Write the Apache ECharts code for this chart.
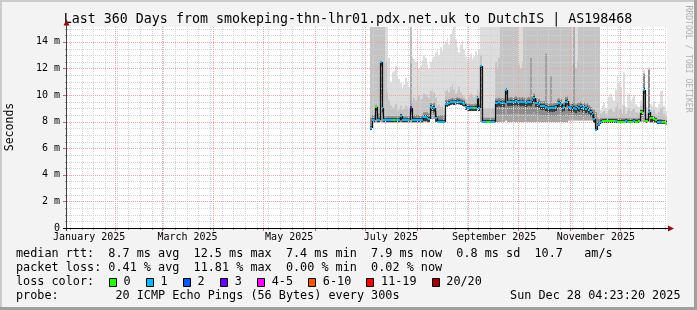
<!DOCTYPE html>
<html><head><meta charset="utf-8">
<script src="https://cdn.jsdelivr.net/npm/echarts@6/dist/echarts.min.js"></script>
<style>html,body{margin:0;padding:0;background:#f3f3f3;}#c{width:697px;height:310px;}</style>
</head><body><div id="c"></div>
<script>
// ---- data (day index: 0 = 1 Jan 2025) ----
const firstDay = 184;
const median = [
 7.5, 8.1, 8.1, 9.1, 8.1, 8.1, 12.5, 9.0, 8.1, 8.1,
 8.1, 8.1, 8.1, 8.1, 8.1, 8.1, 8.1, 8.1, 8.4, 8.15,
 8.1, 8.1, 8.1, 8.1, 9.0, 8.15, 8.15, 8.15, 8.15, 8.15,
 8.15, 8.15, 8.35, 8.35, 8.3, 8.2, 9.1, 9.1, 9.05, 8.3,
 8.0, 8.0, 8.0, 8.0, 8.0, 9.35, 9.3, 9.4, 9.45, 9.5,
 9.45, 9.5, 9.55, 9.5, 9.45, 9.4, 9.35, 9.1, 9.05, 9.05,
 9.0, 9.0, 9.0, 9.05, 9.75, 9.0, 12.2, 7.98, 7.98, 7.98,
 7.98, 7.98, 7.98, 7.98, 7.98, 9.4, 9.4, 9.45, 9.4, 9.45,
 9.4, 10.35, 9.5, 9.45, 9.5, 9.45, 9.5, 9.55, 9.45, 9.5,
 9.45, 9.5, 9.45, 9.4, 9.45, 9.5, 9.45, 9.6, 9.8, 9.4,
 9.4, 9.35, 9.2, 9.15, 9.2, 9.1, 9.05, 9.0, 9.05, 9.0,
 9.05, 9.1, 9.35, 9.4, 9.35, 9.05, 9.1, 9.5, 9.55, 9.1,
 9.0, 9.15, 9.05, 8.95, 9.1, 9.05, 9.15, 9.0, 9.1, 8.95,
 9.05, 8.9, 8.75, 8.6, 8.2, 7.35, 7.75, 7.8, 8.0, 8.05,
 8.05, 8.05, 8.05, 8.05, 8.05, 8.05, 8.05, 8.05, 8.0, 8.0,
 8.0, 8.0, 8.0, 8.05, 8.0, 8.0, 8.0, 8.0, 8.05, 8.0,
 8.0, 8.05, 8.7, 8.75, 10.4, 8.05, 8.05, 8.7, 8.25, 8.25,
 8.2, 8.1, 7.98, 7.98, 7.98, 7.95, 7.95, 7.9
];
const lossCount = [
 1,1,1,0,1,1,1,1,1,1,
 1,1,1,1,0,1,0,1,1,1,
 1,1,1,1,3,1,1,1,1,1,
 1,1,1,1,1,1,1,1,1,1,
 1,1,1,1,1,1,1,1,1,1,
 1,1,1,1,1,1,1,1,1,1,
 1,1,0,1,1,1,1,1,1,1,
 0,0,1,1,1,1,1,1,1,1,
 1,1,1,1,1,1,1,1,1,1,
 1,1,1,1,1,1,1,1,1,1,
 1,1,1,1,1,1,1,1,1,1,
 1,1,1,1,1,1,1,1,1,1,
 1,1,1,1,1,1,1,1,1,1,
 1,1,1,1,1,1,1,1,1,0,
 0,0,0,0,0,0,0,1,0,0,
 0,0,0,1,1,0,0,0,1,0,
 0,0,0,0,1,0,0,1,0,0,
 0,0,1,1,1,0,0,0
];
const pingMin = [
 7.4, 7.95, 7.95, 7.95, 7.95, 7.95, 8.0, 7.95, 7.95, 7.95,
 7.95, 7.95, 7.95, 7.95, 7.95, 7.95, 7.95, 7.95, 7.95, 7.95,
 7.95, 7.95, 7.95, 7.95, 7.95, 7.95, 7.95, 7.95, 7.95, 7.95,
 7.95, 7.95, 8.0, 8.0, 8.0, 7.95, 8.2, 8.2, 8.2, 8.0,
 7.9, 7.9, 7.9, 7.9, 7.9, 9.15, 9.1, 9.2, 9.25, 9.3,
 9.25, 9.3, 9.35, 9.3, 9.25, 9.2, 9.15, 8.9, 8.85, 8.8,
 8.8, 8.8, 8.8, 8.8, 8.9, 8.8, 8.0, 7.9, 7.9, 7.9,
 7.9, 7.9, 7.9, 7.9, 7.9, 8.0, 8.0, 8.0, 8.0, 8.0,
 8.0, 8.1, 8.0, 8.0, 8.0, 8.0, 8.0, 8.0, 8.0, 8.0,
 8.0, 8.0, 8.0, 8.0, 8.0, 8.0, 8.0, 8.0, 8.0, 8.0,
 8.0, 8.0, 8.0, 8.0, 8.0, 8.0, 8.0, 8.0, 8.0, 8.0,
 8.0, 8.0, 8.0, 8.0, 8.0, 8.0, 8.0, 8.0, 8.0, 8.1,
 8.1, 8.1, 8.1, 8.1, 8.1, 8.1, 8.1, 8.1, 8.1, 8.1,
 8.1, 8.1, 8.1, 8.1, 7.9, 7.3, 7.6, 7.7, 7.9, 7.9,
 7.9, 7.9, 7.9, 7.9, 7.9, 7.9, 7.9, 7.9, 7.9, 7.9,
 7.9, 7.9, 7.9, 7.9, 7.9, 7.9, 7.9, 7.9, 7.9, 7.9,
 7.9, 7.9, 8.0, 8.0, 8.0, 7.9, 7.9, 8.0, 7.95, 7.95,
 7.95, 7.9, 7.85, 7.85, 7.85, 7.85, 7.85, 7.8
];
const darkTop = [
 8.3, 8.5, 8.5, 9.2, 8.5, 8.6, 12.5, 9.2, 8.4, 8.4,
 8.4, 8.4, 8.4, 8.4, 8.4, 8.4, 8.4, 8.4, 8.6, 8.4,
 8.4, 8.4, 8.4, 8.4, 9.2, 8.5, 8.5, 8.5, 8.5, 8.5,
 8.5, 8.5, 8.7, 8.7, 8.7, 8.6, 9.4, 9.4, 9.4, 8.8,
 8.5, 8.5, 8.5, 8.5, 8.5, 9.65, 9.6, 9.7, 9.75, 9.8,
 9.75, 9.8, 9.85, 9.8, 9.75, 9.7, 9.65, 9.4, 9.35, 9.35,
 9.3, 9.3, 9.3, 9.35, 9.95, 9.3, 12.2, 8.3, 8.3, 8.3,
 8.3, 8.3, 8.3, 8.3, 8.3, 9.75, 9.75, 9.8, 9.75, 9.8,
 9.75, 10.5, 9.85, 9.8, 9.85, 9.8, 9.85, 9.9, 9.8, 9.85,
 9.8, 9.85, 9.8, 9.75, 9.8, 9.85, 9.8, 9.9, 10.1, 9.75,
 9.75, 9.7, 9.55, 9.5, 9.55, 9.45, 9.4, 9.35, 9.4, 9.35,
 9.4, 9.45, 9.7, 9.75, 9.7, 9.4, 9.45, 9.85, 9.9, 9.45,
 9.35, 9.5, 9.4, 9.3, 9.45, 9.4, 9.5, 9.35, 9.45, 9.3,
 9.4, 9.25, 9.1, 8.95, 8.9, 8.7, 8.3, 8.2, 8.25, 8.25,
 8.25, 8.25, 8.25, 8.25, 8.25, 8.25, 8.25, 8.25, 8.25, 8.25,
 8.25, 8.25, 8.25, 8.25, 8.25, 8.25, 8.25, 8.25, 8.25, 8.25,
 8.25, 8.25, 8.9, 8.95, 11.6, 8.25, 8.25, 11.9, 8.45, 8.45,
 8.4, 8.3, 8.2, 8.2, 8.2, 8.15, 8.15, 8.1
];
const midTop = [
 15.5, 15.5, 15.5, 15.5, 15.5, 15.5, 15.5, 15.5, 15.5, 12.5,
 10.2, 9.6, 9.2, 9.0, 9.1, 9.3, 9.0, 8.9, 9.2, 8.9,
 9.0, 9.2, 9.1, 9.0, 9.6, 9.5, 9.8, 9.6, 9.9, 10.0,
 9.7, 9.8, 10.1, 10.0, 9.9, 9.8, 10.3, 10.4, 10.2, 9.8,
 9.2, 9.3, 9.1, 9.2, 9.0, 10.3, 10.5, 10.2, 10.6, 10.8,
 10.4, 10.1, 10.3, 10.6, 10.2, 10.0, 9.9, 9.7, 9.6, 9.9,
 10.1, 10.0, 9.8, 10.0, 10.4, 10.2, 13.0, 9.0, 9.0, 9.0,
 9.0, 9.0, 9.0, 9.0, 9.0, 12.5, 12.0, 12.8, 15.5, 15.5,
 15.5, 15.5, 15.5, 15.5, 15.5, 15.5, 15.5, 15.5, 15.5, 12.3,
 12.0, 12.5, 15.5, 15.5, 15.5, 15.5, 15.5, 15.5, 15.5, 15.5,
 15.5, 15.5, 15.5, 15.5, 15.5, 15.5, 15.5, 15.5, 15.5, 15.5,
 15.5, 15.5, 15.5, 15.5, 15.5, 15.5, 15.5, 15.5, 15.5, 15.5,
 15.5, 12.2, 12.4, 12.0, 12.6, 15.5, 15.5, 15.5, 15.5, 15.5,
 15.5, 15.5, 15.5, 15.5, 15.5, 15.5, 15.5, 15.5, 8.6, 8.7,
 8.8, 8.6, 8.5, 8.9, 9.0, 8.8, 8.7, 9.1, 9.4, 9.0,
 8.9, 8.6, 9.2, 8.6, 8.8, 9.0, 8.8, 8.9, 9.0, 8.7,
 8.7, 8.6, 9.2, 9.3, 11.6, 8.6, 8.6, 11.9, 8.9, 8.8,
 8.9, 8.6, 8.5, 8.7, 9.0, 9.1, 8.6, 8.4
];
const pingMax = [
 15.5, 15.5, 15.5, 15.5, 15.5, 15.5, 15.5, 15.5, 15.5, 15.5,
 15.5, 12.8, 11.0, 11.7, 11.8, 12.2, 11.5, 11.2, 10.9, 10.5,
 10.8, 11.3, 11.0, 10.6, 12.4, 12.9, 12.7, 12.5, 12.4, 12.0,
 12.2, 12.6, 13.0, 12.8, 12.3, 12.0, 12.5, 12.7, 12.9, 13.2,
 13.5, 13.0, 13.6, 13.3, 13.8, 14.0, 14.3, 13.8, 14.6, 14.9,
 15.5, 14.2, 13.6, 13.2, 13.8, 14.1, 13.4, 12.9, 12.6, 12.8,
 13.1, 12.7, 12.9, 13.3, 13.0, 13.4, 15.5, 15.5, 15.5, 15.5,
 15.5, 15.5, 15.5, 15.5, 15.5, 15.5, 15.5, 15.5, 15.5, 15.5,
 15.5, 15.5, 15.5, 15.5, 15.5, 15.5, 15.5, 15.5, 15.5, 15.5,
 15.5, 15.5, 15.5, 15.5, 15.5, 15.5, 15.5, 15.5, 15.5, 15.5,
 15.5, 15.5, 15.5, 15.5, 15.5, 15.5, 15.5, 15.5, 15.5, 15.5,
 15.5, 15.5, 15.5, 15.5, 15.5, 15.5, 15.5, 15.5, 15.5, 15.5,
 15.5, 15.5, 15.5, 15.5, 15.5, 15.5, 15.5, 15.5, 15.5, 15.5,
 15.5, 15.5, 15.5, 15.5, 15.5, 15.5, 15.5, 15.5, 8.9, 9.2,
 9.4, 9.0, 8.8, 9.9, 10.1, 9.8, 9.6, 10.4, 11.5, 10.9,
 10.6, 9.3, 11.7, 9.1, 9.9, 10.1, 9.6, 9.8, 10.0, 9.3,
 9.2, 9.1, 9.6, 10.0, 11.9, 9.1, 9.0, 12.1, 9.3, 9.2,
 9.5, 9.1, 9.0, 9.3, 10.3, 10.4, 9.2, 8.8
];
const thinSpikeDays = [208, 280, 289, 292, 306];
const thinSpikeTops = [15.5, 12.8, 13.1, 11.4, 15.5];

// ---- axes / ticks ----
const monthLineDays = [31, 59, 90, 120, 151, 181, 212, 243, 273, 304, 334];
const weekLineDays = [4,11,18,25,32,39,46,53,60,67,74,81,88,95,102,109,116,123,130,137,144,151,158,165,172,179,186,193,200,207,214,221,228,235,242,249,256,263,270,277,284,291,298,305,312,319,326,333,340,347,354,361];
const monthLabelDays = [15.5, 74.5, 135.5, 196.5, 258.5, 319.5];
const monthLabels = ['January 2025', 'March 2025', 'May 2025', 'July 2025', 'September 2025', 'November 2025'];
const yMajorTicks = [0, 2, 4, 6, 8, 10, 12, 14];
const yTickLabels = ['0', '2 m', '4 m', '6 m', '8 m', '10 m', '12 m', '14 m'];
const yMinorTicks = [0.5,1,1.5,2.5,3,3.5,4.5,5,5.5,6.5,7,7.5,8.5,9,9.5,10.5,11,11.5,12.5,13,13.5,14.5,15];

// ---- legend ----
const rttStats = ['8.7', '12.5', '7.4', '7.9', '0.8', '10.7'];
const lossStats = ['0.41', '11.81', '0.00', '0.02'];
const lossLabels = ['0', '1', '2', '3', '4-5', '6-10', '11-19', '20/20'];
const lossColors = ['#26ff00', '#00b8ff', '#0059ff', '#6a00ff', '#ff00ff', '#ff5500', '#ff0000', '#a10000'];
const titleText = 'Last 360 Days from smokeping-thn-lhr01.pdx.net.uk to DutchIS | AS198468';
const probeText = 'probe:        20 ICMP Echo Pings (56 Bytes) every 300s';
const dateText = 'Sun Dec 28 04:23:20 2025';

const X_MIN = 2.2, X_MAX = 362.2, Y_MAX = 15.12;
const MONO = '"DejaVu Sans Mono", monospace';
const SMOKE = ['#dddddd', '#c4c4c4', '#8c8c8c', '#a6a6a6', '#3a3a3a'];
const RED = '#f0a4a4', GRAY = '#d2d2d2';

function lossBucket(n) {
  if (n <= 3) return n;
  if (n <= 5) return 4;
  if (n <= 10) return 5;
  if (n <= 19) return 6;
  return 7;
}

const chart = echarts.init(document.getElementById('c'), null, {renderer: 'canvas'});

const smokeData = median.map((m, i) => [firstDay + i, pingMin[i], m, darkTop[i], midTop[i], pingMax[i]]);
const medianData = median.map((m, i) => [firstDay + i, m, lossCount[i]]);
const spikeData = thinSpikeDays.map((d, i) => [d, thinSpikeTops[i]]);

const gridItems = [];
weekLineDays.forEach(v => gridItems.push({kind: 'week', v}));
yMinorTicks.forEach(v => gridItems.push({kind: 'hmin', v}));
monthLineDays.forEach(v => gridItems.push({kind: 'month', v}));
yMajorTicks.forEach(v => gridItems.push({kind: 'hmaj', v}));

function renderGrid(params, api) {
  const it = gridItems[params.dataIndex];
  const cs = params.coordSys;
  const bottom = cs.y + cs.height;
  if (it.kind === 'week' || it.kind === 'month') {
    const x = Math.round(api.coord([it.v, 0])[0]) + 0.5;
    const c = it.kind === 'month' ? RED : GRAY;
    return {type: 'group', children: [
      {type: 'line', shape: {x1: x, y1: cs.y, x2: x, y2: bottom}, style: {stroke: c, lineWidth: 1, lineDash: [1, 1]}},
      {type: 'line', shape: {x1: x, y1: bottom, x2: x, y2: bottom + (it.kind === 'month' ? 3 : 2)}, style: {stroke: it.kind === 'month' ? '#d06060' : '#999', lineWidth: 1}}
    ]};
  }
  if (it.v === 0) return null;
  const y = Math.round(api.coord([X_MIN, it.v])[1]) + 0.5;
  const c = it.kind === 'hmaj' ? RED : GRAY;
  return {type: 'group', children: [
    {type: 'line', shape: {x1: cs.x, y1: y, x2: cs.x + cs.width, y2: y}, style: {stroke: c, lineWidth: 1, lineDash: [1, 1]}},
    {type: 'line', shape: {x1: cs.x - (it.kind === 'hmaj' ? 4 : 2), y1: y, x2: cs.x, y2: y}, style: {stroke: it.kind === 'hmaj' ? '#d06060' : '#999', lineWidth: 1}}
  ]};
}

function renderSmoke(params, api) {
  const d = api.value(0);
  const x0 = Math.round(api.coord([d, 0])[0]);
  const x1 = Math.round(api.coord([d + 1, 0])[0]);
  const Y = v => api.coord([d, Math.min(v, Y_MAX)])[1];
  const lo = api.value(1), med = api.value(2), h1 = api.value(3), h2 = api.value(4), h3 = api.value(5);
  const band = (a, b, color) => ({type: 'rect', shape: {x: x0, y: Y(b), width: x1 - x0, height: Y(a) - Y(b)}, style: {fill: color}});
  const kids = [band(lo, h3, SMOKE[0]), band(lo, h2, SMOKE[1]), band(lo, h1, SMOKE[2])];
  if (med - lo > 0.6) kids.push(band(lo, lo + (med - lo) * 0.4, SMOKE[3]));
  kids.push(band(Math.max(lo, med - 0.3), Math.min(h1, med + 0.15), SMOKE[4]));
  return {type: 'group', children: kids};
}

function renderSpike(params, api) {
  const d = api.value(0);
  const x = Math.round(api.coord([d, 0])[0]) + 1;
  const base = darkTop[d - firstDay];
  return {type: 'line', shape: {x1: x, y1: api.coord([d, base])[1], x2: x, y2: api.coord([d, Math.min(api.value(1), Y_MAX)])[1]}, style: {stroke: '#7a7a7a', lineWidth: 1}};
}

function renderMedian(params, api) {
  const i = params.dataIndex;
  const d = api.value(0), m = api.value(1), l = api.value(2);
  const x0 = Math.round(api.coord([d, 0])[0]);
  const x1 = Math.round(api.coord([d + 1, 0])[0]);
  const y = Math.round(api.coord([d, m])[1]);
  const children = [];
  if (i > 0) {
    const yp = Math.round(api.coord([d, median[i - 1]])[1]);
    if (yp !== y) children.push({type: 'line', shape: {x1: x0 + 0.5, y1: yp, x2: x0 + 0.5, y2: y}, style: {stroke: '#111', lineWidth: 1.2}});
  }
  children.push({type: 'line', shape: {x1: x0, y1: y, x2: x1, y2: y}, style: {stroke: lossColors[lossBucket(l)], lineWidth: 2}});
  return {type: 'group', children};
}

function renderLabels(params, api) {
  const cs = params.coordSys;
  const d = api.value(0);
  return {type: 'text', x: api.coord([d, 0])[0], y: cs.y + cs.height + 9.5,
    style: {text: monthLabels[params.dataIndex], align: 'center', verticalAlign: 'middle', font: '10px ' + MONO, fill: '#000'}};
}

function renderAxes(params, api) {
  const cs = params.coordSys;
  const bottom = cs.y + cs.height;
  const right = cs.x + cs.width;
  return {type: 'group', children: [
    {type: 'line', shape: {x1: cs.x - 0.5, y1: cs.y - 2, x2: cs.x - 0.5, y2: bottom + 3}, style: {stroke: '#404040', lineWidth: 1}},
    {type: 'line', shape: {x1: cs.x - 4, y1: bottom + 0.5, x2: right + 1, y2: bottom + 0.5}, style: {stroke: '#000', lineWidth: 1}},
    {type: 'polygon', shape: {points: [[right + 1, bottom - 2.5], [right + 7, bottom + 0.5], [right + 1, bottom + 3.5]]}, style: {fill: '#8b1010'}},
    {type: 'polygon', shape: {points: [[cs.x - 3.5, cs.y - 1.5], [cs.x - 0.5, cs.y - 7.5], [cs.x + 2.5, cs.y - 1.5]]}, style: {fill: '#8b1010'}}
  ]};
}

// legend graphics
const legendY = [254.3, 268.3, 282.3, 296.3];
const line1 = `median rtt:  ${rttStats[0]} ms avg  ${rttStats[1]} ms max  ${rttStats[2]} ms min  ${rttStats[3]} ms now  ${rttStats[4]} ms sd  ${rttStats[5]}   am/s`;
const line2 = `packet loss: ${lossStats[0]} % avg  ${lossStats[1]} % max  ${lossStats[2]} % min  ${lossStats[3]} % now`;
const LFONT = '11.8px ' + MONO;
const graphics = [
  {type: 'rect', shape: {x: 0, y: 0, width: 697, height: 2}, style: {fill: '#cbcbcb'}, silent: true},
  {type: 'rect', shape: {x: 0, y: 0, width: 2, height: 310}, style: {fill: '#cbcbcb'}, silent: true},
  {type: 'rect', shape: {x: 0, y: 307, width: 697, height: 3}, style: {fill: '#9f9f9f'}, silent: true},
  {type: 'rect', shape: {x: 694, y: 0, width: 3, height: 310}, style: {fill: '#9f9f9f'}, silent: true},
  {type: 'text', x: 348, y: 19.5, style: {text: titleText, align: 'center', verticalAlign: 'middle', font: '13.3px ' + MONO, fill: '#000'}},
  {type: 'text', x: 10.5, y: 127, rotation: Math.PI / 2, style: {text: 'Seconds', align: 'center', verticalAlign: 'middle', font: '11.5px ' + MONO, fill: '#000'}},
  {type: 'text', x: 688, y: 59, rotation: -Math.PI / 2, style: {text: 'RRDTOOL / TOBI OETIKER', align: 'center', verticalAlign: 'middle', font: '8.1px ' + MONO, fill: '#b0b0b0'}},
  {type: 'text', x: 16, y: legendY[0], style: {text: line1, align: 'left', verticalAlign: 'middle', font: LFONT, fill: '#000'}},
  {type: 'text', x: 16, y: legendY[1], style: {text: line2, align: 'left', verticalAlign: 'middle', font: LFONT, fill: '#000'}},
  {type: 'text', x: 16, y: legendY[2], style: {text: 'loss color:', align: 'left', verticalAlign: 'middle', font: LFONT, fill: '#000'}},
  {type: 'text', x: 16, y: legendY[3], style: {text: probeText, align: 'left', verticalAlign: 'middle', font: LFONT, fill: '#000'}},
  {type: 'text', x: 680.5, y: legendY[3], style: {text: dateText, align: 'right', verticalAlign: 'middle', font: LFONT, fill: '#000'}}
];
let bx = 108.7;
lossLabels.forEach((lab, i) => {
  graphics.push({type: 'rect', shape: {x: Math.round(bx) + 0.5, y: 278.5, width: 7, height: 8}, style: {fill: lossColors[i], stroke: '#000', lineWidth: 1}});
  graphics.push({type: 'text', x: bx + 14.8, y: legendY[2], style: {text: lab, align: 'left', verticalAlign: 'middle', font: LFONT, fill: '#000'}});
  bx += 30 + 7.05 * lab.length;
});

chart.setOption({
  animation: false,
  backgroundColor: '#f3f3f3',
  grid: {left: 67, right: 30, top: 27, bottom: 82, show: true, backgroundColor: '#ffffff', borderWidth: 0},
  xAxis: {type: 'value', min: X_MIN, max: X_MAX, show: false},
  yAxis: {type: 'value', min: 0, max: Y_MAX, interval: 2,
    axisLine: {show: false}, axisTick: {show: false}, splitLine: {show: false},
    axisLabel: {margin: 7, showMaxLabel: false, fontFamily: MONO, fontSize: 10, color: '#000',
      formatter: v => { const k = yMajorTicks.indexOf(v); return k >= 0 ? yTickLabels[k] : ''; }}},
  graphic: graphics,
  series: [
    {type: 'custom', name: 'smoke', coordinateSystem: 'cartesian2d', silent: true, renderItem: renderSmoke, data: smokeData, encode: {x: 0, y: [1, 5]}, z: 1},
    {type: 'custom', name: 'spikes', coordinateSystem: 'cartesian2d', silent: true, renderItem: renderSpike, data: spikeData, encode: {x: 0, y: 1}, z: 2},
    {type: 'custom', name: 'grid', coordinateSystem: 'cartesian2d', silent: true, renderItem: renderGrid, data: gridItems.map(() => [X_MIN, 0]), encode: {x: 0, y: 1}, z: 3},
    {type: 'custom', name: 'median', coordinateSystem: 'cartesian2d', silent: true, renderItem: renderMedian, data: medianData, encode: {x: 0, y: 1}, z: 4},
    {type: 'custom', name: 'labels', coordinateSystem: 'cartesian2d', silent: true, renderItem: renderLabels, data: monthLabelDays.map(d => [d, 0]), encode: {x: 0, y: 1}, z: 5},
    {type: 'custom', name: 'axes', coordinateSystem: 'cartesian2d', silent: true, renderItem: renderAxes, data: [[X_MIN, 0]], encode: {x: 0, y: 1}, z: 6}
  ]
});
</script></body></html>
